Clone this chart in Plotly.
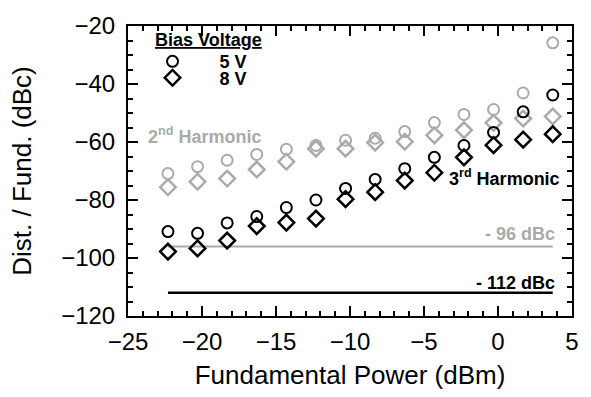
import plotly.graph_objects as go

# Data
fund_power = [-22.3, -20.3, -18.3, -16.3, -14.3, -12.3, -10.3, -8.3, -6.3, -4.3, -2.3, -0.3, 1.7, 3.7]
h2_5v = [-70.9, -68.5, -66.3, -64.3, -62.5, -61.2, -59.4, -58.7, -56.4, -53.3, -50.5, -48.8, -43.1, -25.8]
h2_8v = [-75.6, -73.7, -72.6, -69.5, -66.8, -62.3, -62.3, -60.2, -59.9, -57.7, -55.9, -53.4, -51.9, -51.2]
h3_5v = [-90.9, -91.5, -87.9, -85.7, -82.6, -80.0, -76.0, -72.9, -69.2, -65.3, -61.2, -56.7, -49.6, -43.8]
h3_8v = [-97.8, -96.7, -94.0, -89.0, -87.8, -86.4, -79.7, -77.3, -73.3, -70.6, -65.3, -61.1, -59.2, -57.3]
floor_levels = [-96, -112]
floor_labels = ["- 96 dBc", "- 112 dBc"]
bias_labels = ["5 V", "8 V"]

GRAY = "#aaaaaa"
BLACK = "#000000"
FONT = "Liberation Sans, Arial, Helvetica, sans-serif"

fig = go.Figure()

# noise floor lines
fig.add_trace(go.Scatter(x=[fund_power[0], fund_power[-1]], y=[floor_levels[0]] * 2, mode="lines",
                         line=dict(color=GRAY, width=2), showlegend=False, hoverinfo="skip"))
fig.add_trace(go.Scatter(x=[fund_power[0], fund_power[-1]], y=[floor_levels[1]] * 2, mode="lines",
                         line=dict(color=BLACK, width=2.5), showlegend=False, hoverinfo="skip"))

circ = dict(symbol="circle-open", size=11)
diam = dict(symbol="diamond-open", size=12)

fig.add_trace(go.Scatter(x=fund_power, y=h2_5v, mode="markers", showlegend=False,
                         marker=dict(**circ, color=GRAY, line=dict(width=2, color=GRAY))))
fig.add_trace(go.Scatter(x=fund_power, y=h2_8v, mode="markers", showlegend=False,
                         marker=dict(**diam, color=GRAY, line=dict(width=2.5, color=GRAY))))
fig.add_trace(go.Scatter(x=fund_power, y=h3_5v, mode="markers", showlegend=False,
                         marker=dict(**circ, color=BLACK, line=dict(width=2, color=BLACK))))
fig.add_trace(go.Scatter(x=fund_power, y=h3_8v, mode="markers", showlegend=False,
                         marker=dict(**diam, color=BLACK, line=dict(width=2.5, color=BLACK))))

# legend entries (two legends for tight spacing)
fig.add_trace(go.Scatter(x=[None], y=[None], mode="markers", name=bias_labels[0], legend="legend",
                         marker=dict(**circ, color=BLACK, line=dict(width=2, color=BLACK))))
fig.add_trace(go.Scatter(x=[None], y=[None], mode="markers", name=bias_labels[1], legend="legend2",
                         marker=dict(**diam, color=BLACK, line=dict(width=2.5, color=BLACK))))

legfont = dict(family=FONT, size=18, color=BLACK, weight="bold")
common_leg = dict(xanchor="left", yanchor="middle", bgcolor="rgba(0,0,0,0)", borderwidth=0,
                  font=legfont, itemwidth=84, tracegroupgap=0)

axis_common = dict(
    showline=True, linecolor=BLACK, linewidth=2, mirror="ticks",
    ticks="inside", ticklen=10, tickwidth=2, tickcolor=BLACK,
    showgrid=False, zeroline=False,
    tickfont=dict(family=FONT, size=24, color=BLACK),
    title_font=dict(family=FONT, size=26, color=BLACK),
)

fig.update_layout(
    width=591, height=397, autosize=False,
    margin=dict(l=128, r=15, t=15, b=81),
    paper_bgcolor="white", plot_bgcolor="white",
    xaxis=dict(range=[-25, 5], dtick=5, tick0=-25,
               minor=dict(dtick=1, ticks="inside", ticklen=5, tickwidth=1.5, tickcolor=BLACK),
               title=dict(text="Fundamental Power (dBm)", standoff=12), ticklabelstandoff=3, **axis_common),
    yaxis=dict(range=[-120, -20], dtick=20,
               minor=dict(dtick=5, ticks="inside", ticklen=5, tickwidth=1.5, tickcolor=BLACK),
               title=dict(text="Dist. / Fund. (dBc)", standoff=22), ticklabelstandoff=6, **axis_common),
    legend=dict(x=-0.0056, y=1 - 37 / 301, **common_leg),
    legend2=dict(x=-0.0056, y=1 - 54 / 301, **common_leg),
    showlegend=True,
)

bold = dict(family=FONT, size=18, weight="bold")
fig.add_annotation(x=-23.29, y=-24.9, text="<u>Bias Voltage</u>", showarrow=False,
                   xanchor="left", yanchor="middle", font=dict(**bold, color=BLACK))
fig.add_annotation(x=-23.76, y=-57.8, text="2<sup>nd</sup> Harmonic", showarrow=False,
                   xanchor="left", yanchor="middle", font=dict(**bold, color=GRAY))
fig.add_annotation(x=4.3, y=-72.3, text="3<sup>rd</sup> Harmonic", showarrow=False,
                   xanchor="right", yanchor="middle", font=dict(**bold, color=BLACK))
fig.add_annotation(x=4.0, y=-91.7, text=floor_labels[0], showarrow=False,
                   xanchor="right", yanchor="middle", font=dict(**bold, color=GRAY))
fig.add_annotation(x=4.0, y=-108.7, text=floor_labels[1], showarrow=False,
                   xanchor="right", yanchor="middle", font=dict(**bold, color=BLACK))

fig.write_html("out.html")
